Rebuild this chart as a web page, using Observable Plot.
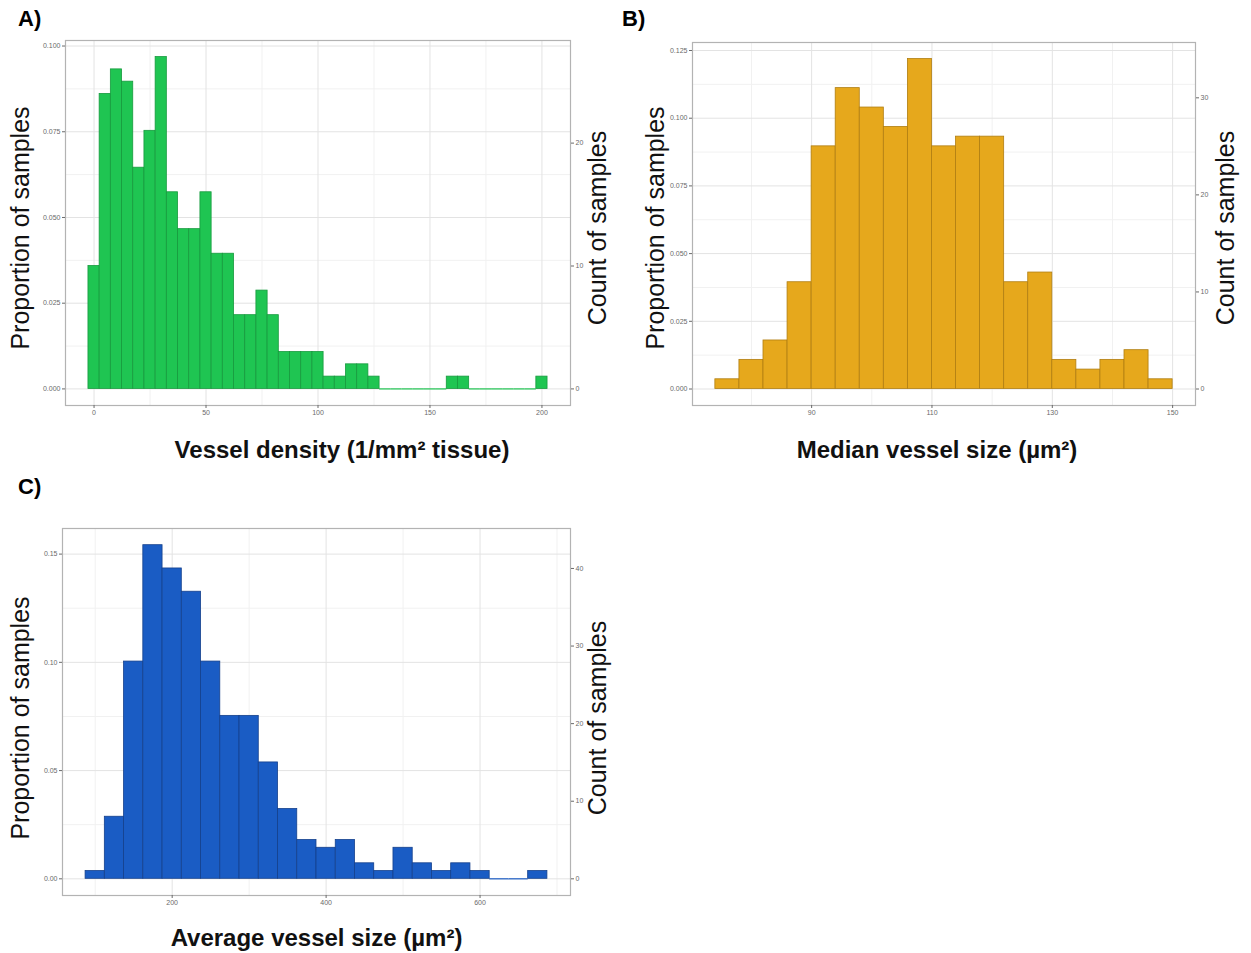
<!DOCTYPE html>
<html><head><meta charset="utf-8">
<script src="https://cdn.jsdelivr.net/npm/d3@7"></script>
<script src="https://cdn.jsdelivr.net/npm/@observablehq/plot@0.6"></script>
<style>
body{margin:0;background:#fff;}
#page{position:relative;width:1251px;height:953px;font-family:"Liberation Sans",Arial,sans-serif;overflow:hidden;}
.panel{position:absolute;}
.tag{position:absolute;font-weight:bold;font-size:22px;line-height:22px;color:#000;}
</style></head><body><div id="page"></div>
<script>
// ---------- Panel A: vessel density (bin width 5) ----------
const centersA = [0,5,10,15,20,25,30,35,40,45,50,55,60,65,70,75,80,85,90,95,100,105,110,115,120,125,130,135,140,145,150,155,160,165,170,175,180,185,190,195,200];
const countsA  = [10,24,26,25,18,21,27,16,13,13,16,11,11,6,6,8,6,3,3,3,3,1,1,2,2,1,0,0,0,0,0,0,1,1,0,0,0,0,0,0,1];
const xTicksA = [0,50,100,150,200];
const xMinorA = [25,75,125,175];
const yTicksA = [0,0.025,0.05,0.075,0.1];
const yMinorA = [0.0125,0.0375,0.0625,0.0875];
const countTicksA = [0,10,20];

// ---------- Panel B: median vessel size (bin width 4) ----------
const centersB = [76,80,84,88,92,96,100,104,108,112,116,120,124,128,132,136,140,144,148];
const countsB  = [1,3,5,11,25,31,29,27,34,25,26,26,11,12,3,2,3,4,1];
const xTicksB = [90,110,130,150];
const xMinorB = [80,100,120,140];
const yTicksB = [0,0.025,0.05,0.075,0.1,0.125];
const yMinorB = [0.0125,0.0375,0.0625,0.0875,0.1125];
const countTicksB = [0,10,20,30];

// ---------- Panel C: average vessel size (bin width 25) ----------
const centersC = [100,125,150,175,200,225,250,275,300,325,350,375,400,425,450,475,500,525,550,575,600,625,650,675];
const countsC  = [1,8,28,43,40,37,28,21,21,15,9,5,4,5,2,1,4,2,1,2,1,0,0,1];
const xTicksC = [200,400,600];
const xMinorC = [100,300,500,700];
const yTicksC = [0,0.05,0.1,0.15];
const yMinorC = [0.025,0.075,0.125];
const countTicksC = [0,10,20,30,40];

const yLabel = "Proportion of samples";
const countLabel = "Count of samples";

function histPanel(o) {
  const N = d3.sum(o.counts);
  const rows = o.centers.map((c, i) => ({x1: c - o.binW / 2, x2: c + o.binW / 2, p: o.counts[i] / N}));
  const zeros = rows.filter(d => d.p === 0);
  const xmin = d3.min(rows, d => d.x1), xmax = d3.max(rows, d => d.x2);
  const pmax = d3.max(rows, d => d.p);
  const ex = (xmax - xmin) * 0.05, ey = pmax * 0.05;
  const axisStyle = {tickSize: 3, tickPadding: 2, fontSize: 7, color: "#6a6a6a", label: null};
  return Plot.plot({
    width: o.width, height: o.height,
    marginTop: o.mt, marginRight: o.mr, marginBottom: o.mb, marginLeft: o.ml,
    style: {fontFamily: "Liberation Sans, Arial, sans-serif", background: "#fff", overflow: "visible"},
    x: {domain: [xmin - ex, xmax + ex]},
    y: {domain: [-ey, pmax + ey]},
    marks: [
      Plot.gridX(o.xMinor, {stroke: "#f1f1f1", strokeOpacity: 1}),
      Plot.gridY(o.yMinor, {stroke: "#f1f1f1", strokeOpacity: 1}),
      Plot.gridX(o.xTicks, {stroke: "#e3e3e3", strokeOpacity: 1}),
      Plot.gridY(o.yTicks, {stroke: "#e3e3e3", strokeOpacity: 1}),
      Plot.ruleY(zeros, {x1: "x1", x2: "x2", y: "p", stroke: o.fill, strokeWidth: 1.2}),
      Plot.rectY(rows.filter(d => d.p > 0), {x1: "x1", x2: "x2", y: "p", fill: o.fill, stroke: o.stroke, strokeWidth: 0.8, inset: 0}),
      Plot.frame({stroke: "#b3b3b3", strokeWidth: 1.2}),
      Plot.axisX(o.xTicks, {anchor: "bottom", tickFormat: d => String(d), ...axisStyle}),
      Plot.axisY(o.yTicks, {anchor: "left", tickFormat: d3.format(o.yFmt), ...axisStyle}),
      Plot.axisY(o.countTicks.map(c => c / N), {anchor: "right", tickFormat: d => String(Math.round(d * N)), ...axisStyle}),
      Plot.text([yLabel], {frameAnchor: "left", dx: o.lx, dy: o.ldy, rotate: -90, fontSize: 25, fill: "#111", textAnchor: "middle", lineAnchor: "middle"}),
      Plot.text([countLabel], {frameAnchor: "right", dx: o.rx, dy: o.ldy, rotate: -90, fontSize: 25, fill: "#111", textAnchor: "middle", lineAnchor: "middle"}),
      Plot.text([o.xTitle], {frameAnchor: "bottom", dx: o.tx, dy: o.ty, fontSize: 24, fontWeight: "bold", fill: "#111", textAnchor: "middle", lineAnchor: "middle"})
    ]
  });
}

const page = document.getElementById("page");
function place(node, left, top) {
  const d = document.createElement("div");
  d.className = "panel";
  d.style.left = left + "px"; d.style.top = top + "px";
  d.appendChild(node);
  page.appendChild(d);
}
function tag(text, left, top) {
  const d = document.createElement("div");
  d.className = "tag"; d.textContent = text;
  d.style.left = left + "px"; d.style.top = top + "px";
  page.appendChild(d);
}

place(histPanel({
  centers: centersA, counts: countsA, binW: 5,
  xTicks: xTicksA, xMinor: xMinorA, yTicks: yTicksA, yMinor: yMinorA, countTicks: countTicksA, yFmt: ".3f",
  fill: "#1fc552", stroke: "#179a3e",
  width: 620, height: 470, mt: 40, mr: 50, mb: 65, ml: 65,
  lx: -45, rx: 27, ldy: 5, tx: 24, ty: 45,
  xTitle: "Vessel density (1/mm² tissue)"
}), 0, 0);

place(histPanel({
  centers: centersB, counts: countsB, binW: 4,
  xTicks: xTicksB, xMinor: xMinorB, yTicks: yTicksB, yMinor: yMinorB, countTicks: countTicksB, yFmt: ".3f",
  fill: "#e6a81c", stroke: "#b07e12",
  width: 631, height: 470, mt: 42, mr: 56, mb: 65, ml: 72,
  lx: -37, rx: 30, ldy: 4, tx: -7, ty: 45,
  xTitle: "Median vessel size (µm²)"
}), 620, 0);

place(histPanel({
  centers: centersC, counts: countsC, binW: 25,
  xTicks: xTicksC, xMinor: xMinorC, yTicks: yTicksC, yMinor: yMinorC, countTicks: countTicksC, yFmt: ".2f",
  fill: "#1a5cc4", stroke: "#15408c",
  width: 620, height: 473, mt: 48, mr: 50, mb: 58, ml: 62,
  lx: -42, rx: 27, ldy: 6, tx: 0, ty: 43,
  xTitle: "Average vessel size (µm²)"
}), 0, 480);

tag("A)", 18, 8);
tag("B)", 622, 8);
tag("C)", 18, 476);
</script></body></html>
